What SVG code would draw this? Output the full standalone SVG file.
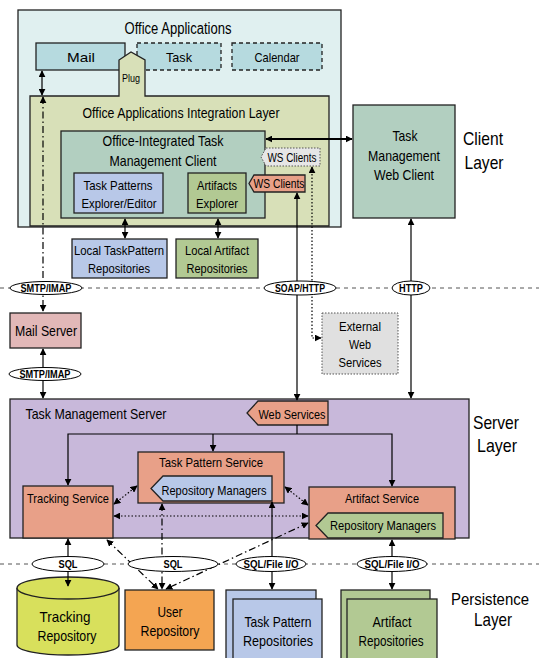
<svg xmlns="http://www.w3.org/2000/svg" width="539" height="658" viewBox="0 0 539 658">
<defs>
<marker id="ah" viewBox="0 0 10 10" refX="9" refY="5" markerWidth="7" markerHeight="7" markerUnits="userSpaceOnUse" orient="auto-start-reverse"><path d="M0,0 L10,5 L0,10 z" fill="#000"/></marker>
<style>
text{font-family:"Liberation Sans",Arial,sans-serif;fill:#000;text-anchor:middle}
.b{stroke:#222;stroke-width:1.3}
.dsh{stroke-dasharray:4 3}
.dot{stroke-dasharray:1.5 1.5}
.c{fill:none;stroke:#000;stroke-width:1.2}
.dd{stroke-dasharray:7 3 1.5 3}
.dt{stroke-dasharray:1.5 2}
.lay{stroke:#555;stroke-width:1;stroke-dasharray:4 4;fill:none}
.el{fill:#fff;stroke:#000;stroke-width:1}
.lbl{font-size:10.5px;font-weight:bold}
.t13{font-size:13.5px}
.t14{font-size:14.5px}
.big{font-size:19px}
</style>
</defs>

<g id="layers">
<line class="lay" x1="0" y1="288" x2="539" y2="288"/>
<line class="lay" x1="0" y1="564" x2="539" y2="564"/>
</g>

<g id="office-apps">
<rect x="18" y="10" width="323" height="217" fill="#e0f0f0" class="b"/>
<text x="178" y="34" style="font-size:16px" textLength="107" lengthAdjust="spacingAndGlyphs">Office Applications</text>
</g>
<g id="mail"><rect x="36" y="43" width="89" height="27" fill="#b6dadf" class="b"/><text x="81" y="62" class="t13" textLength="28" lengthAdjust="spacingAndGlyphs">Mail</text></g>
<g id="task"><rect x="137" y="43" width="84" height="27" fill="#b6dadf" class="b dsh"/><text x="179" y="62" class="t13" textLength="26" lengthAdjust="spacingAndGlyphs">Task</text></g>
<g id="calendar"><rect x="232" y="43" width="90" height="27" fill="#b6dadf" class="b dsh"/><text x="277" y="62" class="t13" textLength="45" lengthAdjust="spacingAndGlyphs">Calendar</text></g>

<g id="integration-layer">
<path d="M30,96 H119 V60 L131,52 L145,60 V96 H329 V226 H30 Z" fill="#d8e0b8" class="b"/>
<text x="131" y="82" style="font-size:11px" textLength="18" lengthAdjust="spacingAndGlyphs">Plug</text>
<text x="181" y="118" class="t14" textLength="197" lengthAdjust="spacingAndGlyphs">Office Applications Integration Layer</text>
</g>

<g id="client">
<rect x="61" y="131" width="204" height="87" fill="#b2cfc0" class="b"/>
<text x="163" y="146" class="t14" textLength="121" lengthAdjust="spacingAndGlyphs">Office-Integrated Task</text>
<text x="163" y="166" class="t14" textLength="107" lengthAdjust="spacingAndGlyphs">Management Client</text>
</g>
<g id="task-patterns-explorer"><rect x="74" y="173" width="89" height="40" fill="#b8c8e8" class="b"/><text x="118" y="190" class="t13" textLength="69" lengthAdjust="spacingAndGlyphs">Task Patterns</text><text x="119" y="208" class="t13" textLength="75" lengthAdjust="spacingAndGlyphs">Explorer/Editor</text></g>
<g id="artifacts-explorer"><rect x="188" y="173" width="58" height="40" fill="#b2c993" class="b"/><text x="217" y="190" class="t13" textLength="40" lengthAdjust="spacingAndGlyphs">Artifacts</text><text x="217" y="208" class="t13" textLength="42" lengthAdjust="spacingAndGlyphs">Explorer</text></g>
<g id="ws-clients-1"><path d="M254,175 H305 V192 H254 L249,183.5 Z" fill="#e8a088" class="b"/><text x="279" y="188" style="font-size:12px" textLength="51" lengthAdjust="spacingAndGlyphs">WS Clients</text></g>
<g id="ws-clients-2"><path d="M266,148 H320 V166 H266 L261,157 Z" fill="#e6e6e6" stroke="#555" stroke-width="1" class="dot"/><text x="292" y="162" style="font-size:12px" textLength="49" lengthAdjust="spacingAndGlyphs">WS Clients</text></g>

<g id="web-client">
<rect x="353" y="105" width="102" height="113" fill="#b2cfc0" class="b"/>
<text x="405" y="141" class="t14" textLength="25" lengthAdjust="spacingAndGlyphs">Task</text>
<text x="404" y="161" class="t14" textLength="72" lengthAdjust="spacingAndGlyphs">Management</text>
<text x="404" y="180" class="t14" textLength="60" lengthAdjust="spacingAndGlyphs">Web Client</text>
</g>
<g id="client-layer-label"><text x="483" y="145" class="big" textLength="40" lengthAdjust="spacingAndGlyphs">Client</text><text x="484" y="169" class="big" textLength="39" lengthAdjust="spacingAndGlyphs">Layer</text></g>

<g id="local-taskpattern-repos"><rect x="72" y="239" width="95" height="39" fill="#b8c8e8" class="b"/><text x="119" y="255" class="t13" textLength="90" lengthAdjust="spacingAndGlyphs">Local TaskPattern</text><text x="119" y="273" class="t13" textLength="62" lengthAdjust="spacingAndGlyphs">Repositories</text></g>
<g id="local-artifact-repos"><rect x="176" y="239" width="82" height="39" fill="#b2c993" class="b"/><text x="217" y="255" class="t13" textLength="64" lengthAdjust="spacingAndGlyphs">Local Artifact</text><text x="217" y="273" class="t13" textLength="61" lengthAdjust="spacingAndGlyphs">Repositories</text></g>

<g id="mail-server"><rect x="10" y="313" width="71" height="35" fill="#e2b8b8" class="b"/><text x="46" y="336" class="t14" textLength="62" lengthAdjust="spacingAndGlyphs">Mail Server</text></g>
<g id="external-ws"><rect x="322" y="313" width="76" height="61" fill="#e0e0e0" stroke="#555" stroke-width="1" class="dot"/><text x="360" y="331" style="font-size:13px" textLength="42" lengthAdjust="spacingAndGlyphs">External</text><text x="360" y="349" style="font-size:13px" textLength="22" lengthAdjust="spacingAndGlyphs">Web</text><text x="360" y="367" style="font-size:13px" textLength="43" lengthAdjust="spacingAndGlyphs">Services</text></g>

<g id="server">
<rect x="10" y="399" width="459" height="139" fill="#c8b8da" class="b"/>
<text x="96" y="419" style="font-size:15px" textLength="141" lengthAdjust="spacingAndGlyphs">Task Management Server</text>
</g>
<g id="server-layer-label"><text x="496" y="429" class="big" textLength="46" lengthAdjust="spacingAndGlyphs">Server</text><text x="497" y="452" class="big" textLength="40" lengthAdjust="spacingAndGlyphs">Layer</text></g>
<g id="web-services"><path d="M258,401 H328 V425 H258 L247,413 Z" fill="#e8a088" class="b"/><text x="292" y="419" class="t13" textLength="67" lengthAdjust="spacingAndGlyphs">Web Services</text></g>

<g id="task-pattern-service"><rect x="138" y="452" width="146" height="51" fill="#e8a088" class="b"/><text x="211" y="467" class="t13" textLength="104" lengthAdjust="spacingAndGlyphs">Task Pattern Service</text></g>
<g id="repo-managers-1"><path d="M163,476 H272 V501 H163 L151,488.5 Z" fill="#b8c8e8" class="b"/><text x="214" y="495" class="t13" textLength="105" lengthAdjust="spacingAndGlyphs">Repository Managers</text></g>
<g id="tracking-service"><rect x="23" y="486" width="90" height="52" fill="#e8a088" class="b"/><text x="68" y="503" class="t13" textLength="82" lengthAdjust="spacingAndGlyphs">Tracking Service</text></g>
<g id="artifact-service"><rect x="309" y="487" width="146" height="52" fill="#e8a088" class="b"/><text x="382" y="503" class="t13" textLength="74" lengthAdjust="spacingAndGlyphs">Artifact Service</text></g>
<g id="repo-managers-2"><path d="M328,513 H443 V538 H328 L316,525.5 Z" fill="#b2c993" class="b"/><text x="383" y="530" class="t13" textLength="106" lengthAdjust="spacingAndGlyphs">Repository Managers</text></g>

<g id="tracking-repo">
<path d="M17,588 V645 A51,10 0 0 0 119,645 V588" fill="#d8e05c" class="b"/>
<ellipse cx="68" cy="588" rx="51" ry="11" fill="#d8e05c" class="b"/>
<text x="65" y="622" style="font-size:15px" textLength="51" lengthAdjust="spacingAndGlyphs">Tracking</text>
<text x="67" y="641" style="font-size:15px" textLength="59" lengthAdjust="spacingAndGlyphs">Repository</text>
</g>
<g id="user-repo"><rect x="125" y="590" width="89" height="60" fill="#f4a552" class="b"/><text x="170" y="617" style="font-size:15px" textLength="25" lengthAdjust="spacingAndGlyphs">User</text><text x="170" y="636" style="font-size:15px" textLength="59" lengthAdjust="spacingAndGlyphs">Repository</text></g>
<g id="task-pattern-repos"><rect x="226" y="590" width="90" height="70" fill="#b8c8e8" class="b"/><rect x="233" y="599" width="89" height="62" fill="#b8c8e8" class="b"/><text x="278" y="627" style="font-size:15px" textLength="67" lengthAdjust="spacingAndGlyphs">Task Pattern</text><text x="278" y="646" style="font-size:15px" textLength="70" lengthAdjust="spacingAndGlyphs">Repositories</text></g>
<g id="artifact-repos"><rect x="341" y="590" width="89" height="70" fill="#b2c993" class="b"/><rect x="347" y="599" width="90" height="62" fill="#b2c993" class="b"/><text x="392" y="627" style="font-size:15px" textLength="39" lengthAdjust="spacingAndGlyphs">Artifact</text><text x="391" y="646" style="font-size:15px" textLength="65" lengthAdjust="spacingAndGlyphs">Repositories</text></g>
<g id="persistence-layer-label"><text x="490" y="605" style="font-size:17px" textLength="78" lengthAdjust="spacingAndGlyphs">Persistence</text><text x="493" y="626" class="big" textLength="38" lengthAdjust="spacingAndGlyphs">Layer</text></g>

<g id="connectors">
<line class="c" x1="42" y1="71" x2="42" y2="95" marker-start="url(#ah)" marker-end="url(#ah)"/>
<line class="c dd" x1="43" y1="97" x2="43" y2="311" marker-start="url(#ah)" marker-end="url(#ah)"/>
<line class="c" x1="43" y1="349" x2="43" y2="398" marker-start="url(#ah)" marker-end="url(#ah)"/>
<line class="c" style="stroke-width:2" x1="266" y1="139" x2="352" y2="139" marker-start="url(#ah)" marker-end="url(#ah)"/>
<line class="c" x1="125" y1="219" x2="125" y2="238" marker-start="url(#ah)" marker-end="url(#ah)"/>
<line class="c" x1="218" y1="219" x2="218" y2="238" marker-start="url(#ah)" marker-end="url(#ah)"/>
<line class="c" x1="297" y1="193" x2="297" y2="400" marker-start="url(#ah)" marker-end="url(#ah)"/>
<line class="c" x1="411" y1="219" x2="411" y2="398" marker-start="url(#ah)" marker-end="url(#ah)"/>
<polyline class="c dt" points="312,167 312,338 321,338" marker-start="url(#ah)" marker-end="url(#ah)"/>
<polyline class="c" points="297,425 297,434"/>
<polyline class="c" points="68,485 68,434 392,434 392,486" marker-start="url(#ah)" marker-end="url(#ah)"/>
<line class="c" x1="213" y1="434" x2="213" y2="451" marker-end="url(#ah)"/>
<line class="c dt" x1="114" y1="504" x2="137" y2="486" marker-start="url(#ah)" marker-end="url(#ah)"/>
<line class="c dt" x1="114" y1="516" x2="308" y2="516" marker-start="url(#ah)" marker-end="url(#ah)"/>
<line class="c dt" x1="285" y1="487" x2="308" y2="505" marker-start="url(#ah)" marker-end="url(#ah)"/>
<line class="c dd" x1="162" y1="504" x2="162" y2="589" marker-start="url(#ah)" marker-end="url(#ah)"/>
<line class="c dd" x1="107" y1="540" x2="158" y2="589" marker-start="url(#ah)" marker-end="url(#ah)"/>
<line class="c dd" x1="308" y1="523" x2="166" y2="589" marker-start="url(#ah)" marker-end="url(#ah)"/>
<line class="c" x1="68" y1="539" x2="68" y2="586" marker-start="url(#ah)" marker-end="url(#ah)"/>
<line class="c" x1="272" y1="502" x2="272" y2="589" marker-start="url(#ah)" marker-end="url(#ah)"/>
<line class="c" x1="392" y1="540" x2="392" y2="589" marker-start="url(#ah)" marker-end="url(#ah)"/>
</g>

<g id="protocol-labels">
<ellipse class="el" cx="46" cy="288" rx="36" ry="6.5"/><text x="46" y="292" class="lbl" textLength="51" lengthAdjust="spacingAndGlyphs">SMTP/IMAP</text>
<ellipse class="el" cx="300" cy="288" rx="36" ry="7"/><text x="300" y="292" class="lbl" textLength="50" lengthAdjust="spacingAndGlyphs">SOAP/HTTP</text>
<ellipse class="el" cx="411" cy="288" rx="19" ry="7"/><text x="411" y="292" class="lbl" textLength="24" lengthAdjust="spacingAndGlyphs">HTTP</text>
<ellipse class="el" cx="45" cy="374" rx="36" ry="6.5"/><text x="45" y="378" class="lbl" textLength="51" lengthAdjust="spacingAndGlyphs">SMTP/IMAP</text>
<ellipse class="el" cx="68" cy="564" rx="36" ry="7.5"/><text x="68" y="568" class="lbl" textLength="19" lengthAdjust="spacingAndGlyphs">SQL</text>
<ellipse class="el" cx="173" cy="564" rx="45" ry="7.5"/><text x="173" y="568" class="lbl" textLength="19" lengthAdjust="spacingAndGlyphs">SQL</text>
<ellipse class="el" cx="271" cy="564" rx="35" ry="7.5"/><text x="271" y="568" class="lbl" textLength="55" lengthAdjust="spacingAndGlyphs">SQL/File I/O</text>
<ellipse class="el" cx="392" cy="564" rx="35" ry="7.5"/><text x="392" y="568" class="lbl" textLength="55" lengthAdjust="spacingAndGlyphs">SQL/File I/O</text>
</g>
</svg>
